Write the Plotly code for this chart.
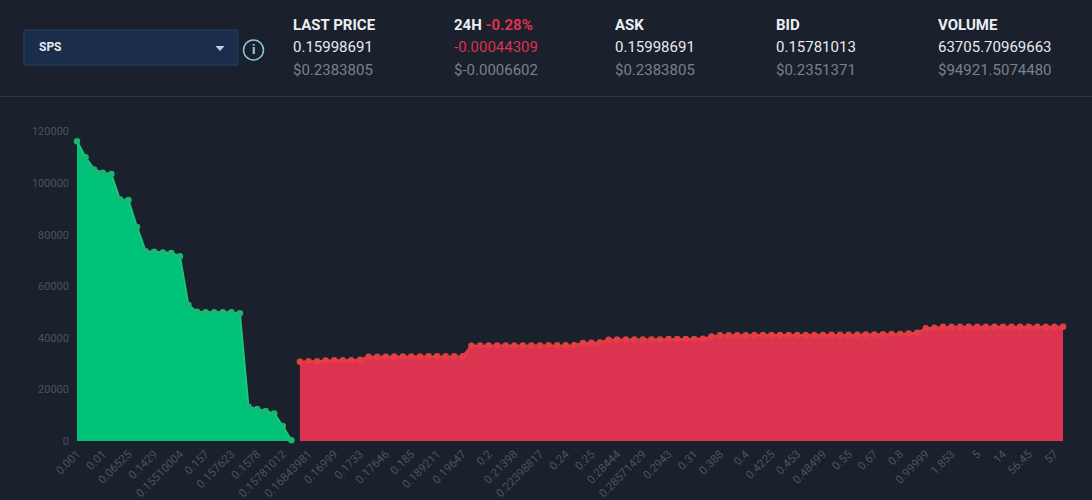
import plotly.graph_objects as go

W = 1092
H = 500

# depth chart values
bid_volume = [
    116200, 110000, 105300, 104000, 103500, 93700, 93400, 83000, 73600, 73400,
    73100, 72900, 71600, 52700, 50100, 49900, 49900, 49900, 49900, 49500,
    13300, 12400, 11600, 10700, 5800, 300,
]
ask_volume = [
    30700, 30900, 30900, 31200, 31300, 31300, 31300, 31500,
    32700, 32700, 32700, 32800, 32800, 32800, 32800, 32900, 32900, 32900, 32900, 32900,
    36900, 37000, 37000, 37000, 37000, 37000, 37000, 37000, 37000, 37100, 37100, 37100, 37100,
    38000, 38100, 38200,
    39300, 39400, 39400, 39400, 39400, 39400, 39400, 39500, 39500, 39500, 39500, 39600,
    40500, 41000, 41000, 41000, 41000, 41100, 41100, 41100, 41100, 41100, 41100, 41100,
    41100, 41100, 41200, 41200, 41200, 41200, 41300, 41300, 41400, 41500, 41500, 41700,
    42000, 43700, 43900,
    44300, 44300, 44300, 44300, 44300, 44300, 44300, 44300, 44300, 44300, 44300, 44300, 44300, 44300, 44300,
]
tick_labels = [
    "0.001", "0.01", "0.06525", "0.1429", "0.15510004", "0.157", "0.157623", "0.1578",
    "0.15781012", "0.16843981", "0.16999", "0.1733", "0.17646", "0.185", "0.189211",
    "0.19647", "0.2", "0.21398", "0.22398817", "0.24", "0.25", "0.28444", "0.28571429",
    "0.2943", "0.31", "0.388", "0.4", "0.4225", "0.453", "0.48499", "0.55", "0.67", "0.8",
    "0.99999", "1.853", "5", "14", "56.45", "57",
]
y_ticks = [0, 20000, 40000, 60000, 80000, 100000, 120000]

headers = ["LAST PRICE", "24H", "ASK", "BID", "VOLUME"]
prices = ["0.15998691", "-0.00044309", "0.15998691", "0.15781013", "63705.70969663"]
usd_prices = ["$0.2383805", "$-0.0006602", "$0.2383805", "$0.2351371", "$94921.5074480"]
change_pct = "-0.28%"

BG = "#1a202c"
GREEN = "#00c278"
RED = "#dc3350"
AXIS_TEXT = "#4b5362"

bid_x = list(range(len(bid_volume)))
ask_x = list(range(len(bid_volume), len(bid_volume) + len(ask_volume)))
tick_x = list(range(0, len(tick_labels) * 3, 3))


def px_x(v):
    return v / W


def px_y(v):
    return 1 - v / H


fig = go.Figure()
fig.add_trace(go.Scatter(
    x=bid_x, y=bid_volume, mode="lines+markers", fill="tozeroy",
    fillcolor=GREEN, line=dict(color="#1fc47c", width=2),
    marker=dict(color="#17b872", size=6.5),
))
fig.add_trace(go.Scatter(
    x=ask_x, y=ask_volume, mode="lines+markers", fill="tozeroy",
    fillcolor=RED, line=dict(color="#e8403f", width=2),
    marker=dict(color="#e24045", size=6.5),
))

# header text
annotations = []
col_x = [291, 452, 613, 774, 936]
for i, cx in enumerate(col_x):
    title = "<b>%s</b>" % headers[i]
    if headers[i] == "24H":
        title += ' <b><span style="color:%s">%s</span></b>' % (RED, change_pct)
    rows = [
        (25, title, "#eceef1"),
        (47.5, prices[i], RED if headers[i] == "24H" else "#e8eaed"),
        (70, usd_prices[i], "#7b808a"),
    ]
    for ry, txt, col in rows:
        annotations.append(dict(
            x=px_x(cx), y=px_y(ry), xref="paper", yref="paper", text=txt,
            showarrow=False, xanchor="left", yanchor="middle",
            font=dict(family="Roboto", size=15, color=col),
        ))
annotations.append(dict(
    x=px_x(37), y=px_y(47), xref="paper", yref="paper", text="<b>SPS</b>",
    showarrow=False, xanchor="left", yanchor="middle",
    font=dict(family="Roboto", size=12, color="#e8eaed"),
))
annotations.append(dict(
    x=px_x(253.5), y=px_y(50), xref="paper", yref="paper", text="<b>i</b>",
    showarrow=False, xanchor="center", yanchor="middle",
    font=dict(family="Roboto", size=13, color="#9fcfe6"),
))

shapes = [
    dict(type="rect", xref="paper", yref="paper", x0=px_x(24), x1=px_x(238), y0=px_y(65), y1=px_y(30),
         fillcolor="#1a2d4a", line=dict(color="#24405f", width=1)),
    dict(type="path", xref="paper", yref="paper",
         path="M %f %f L %f %f L %f %f Z" % (px_x(215.5), px_y(46), px_x(224.5), px_y(46), px_x(220), px_y(51)),
         fillcolor="#c9ccd1", line=dict(width=0)),
    dict(type="circle", xref="paper", yref="paper", x0=px_x(243.5), x1=px_x(263.5), y0=px_y(60), y1=px_y(40),
         line=dict(color="#8fc4e0", width=1.5)),
    dict(type="line", xref="paper", yref="paper", x0=0, x1=1, y0=px_y(96.5), y1=px_y(96.5),
         line=dict(color="#2e3541", width=1)),
]

fig.update_layout(
    width=W, height=H,
    margin=dict(l=0, r=0, t=0, b=0),
    paper_bgcolor=BG, plot_bgcolor=BG,
    showlegend=False,
    annotations=annotations,
    shapes=shapes,
    font=dict(family="Roboto"),
    xaxis=dict(
        domain=[px_x(77), px_x(1063)],
        range=[0, len(bid_volume) + len(ask_volume) - 1],
        tickmode="array", tickvals=tick_x, ticktext=tick_labels,
        tickangle=-45, showgrid=False, zeroline=False, showline=False,
        ticks="", tickfont=dict(size=11.5, color=AXIS_TEXT), automargin=False,
        ticklabelstandoff=3,
    ),
    yaxis=dict(
        domain=[px_y(441), px_y(131.5)],
        range=[0, 120000],
        tickmode="array", tickvals=y_ticks, showgrid=False, zeroline=False,
        showline=False, ticks="", tickformat="d",
        tickfont=dict(size=11, color=AXIS_TEXT), automargin=False,
        ticklabelstandoff=7,
    ),
)
for tr in fig.data:
    tr.cliponaxis = False

fig.write_html(
    "out.html",
    config={"displayModeBar": False},
    post_script="document.body.style.margin='0';document.body.style.overflow='hidden';",
)
